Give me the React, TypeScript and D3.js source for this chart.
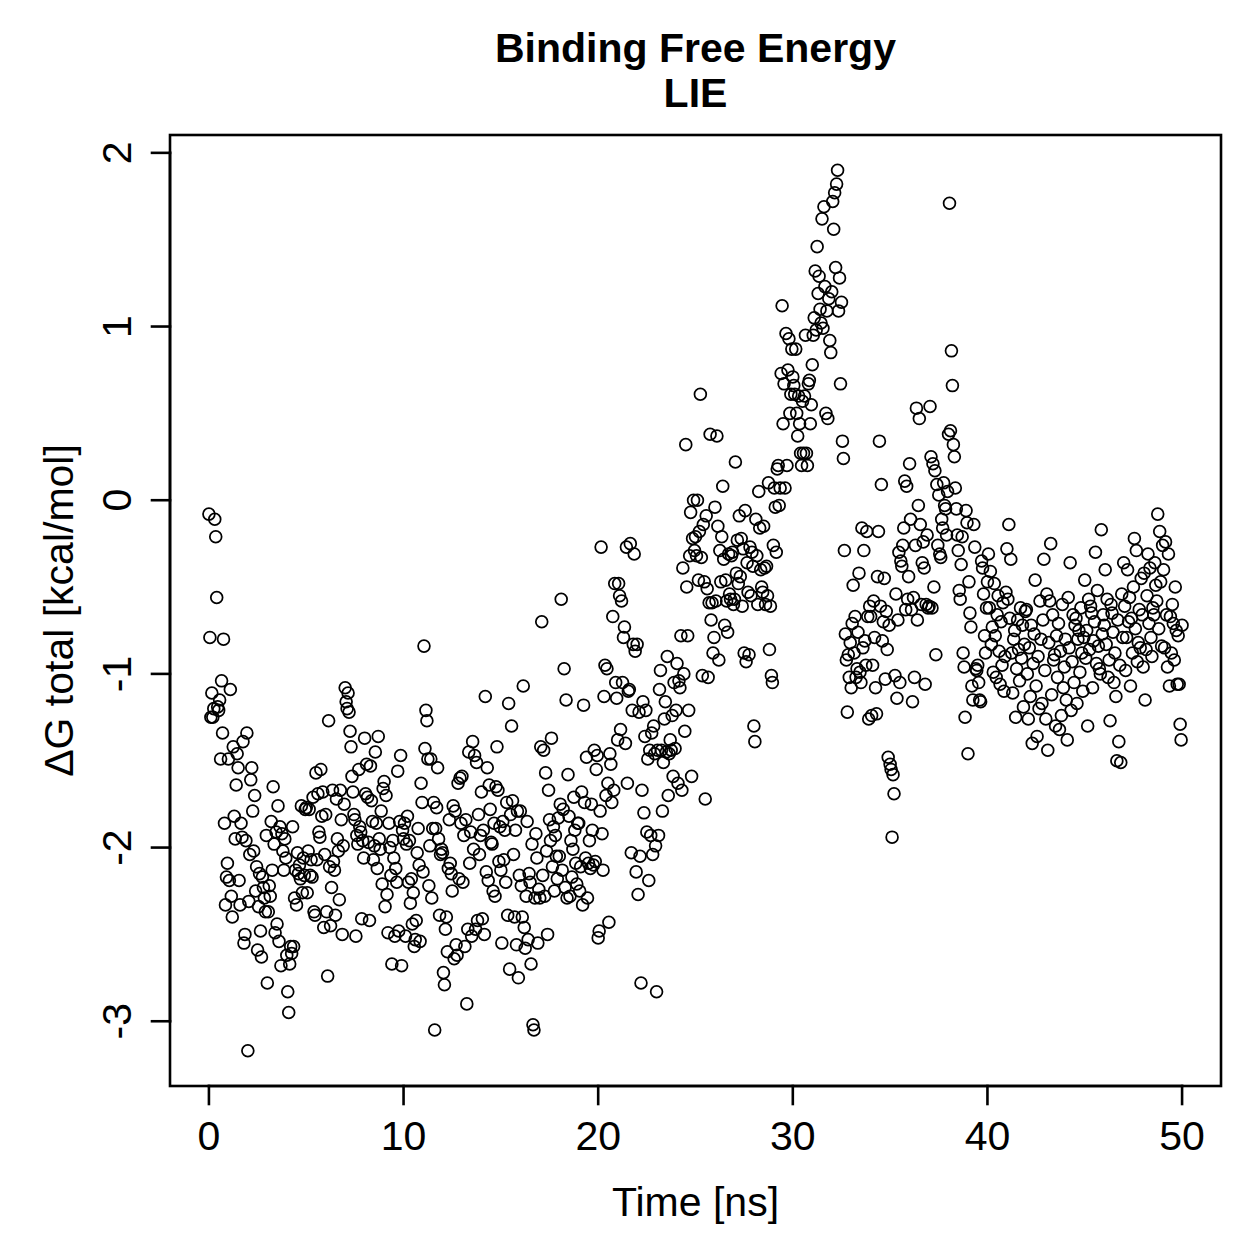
import React from "react";
import * as d3 from "d3";

// LIE binding free energy (kcal/mol), sampled every 0.05 ns, 0–50 ns.
const timeStepNs = 0.05;

const dG_00_10 = [
  -0.08, -0.79, -1.25, -1.11, -1.25, -1.20, -0.11, -0.21, -0.56, -1.19, -1.21, -1.15, -1.49, -1.04, -1.34, -0.80, -1.86, -2.33, -2.17, -2.09,
  -1.49, -2.19, -1.09, -2.28, -2.40, -1.42, -1.82, -1.95, -1.64, -1.46, -1.54, -2.19, -2.33, -1.86, -1.94, -1.39, -2.55, -2.50, -1.96, -1.34,
  -3.17, -2.31, -2.04, -1.61, -1.54, -1.79, -2.02, -1.70, -2.25, -2.11, -2.59, -2.34, -2.15, -2.48, -2.63, -2.17, -2.23, -2.29, -2.37, -1.93,
  -2.78, -2.37, -2.22, -2.28, -1.85, -2.13, -1.65, -1.98, -2.49, -1.91, -2.44, -1.76, -2.54, -1.88, -2.68, -1.92, -2.02, -2.13, -1.95, -2.06,
  -2.62, -2.83, -2.95, -2.67, -2.57, -2.61, -1.88, -2.57, -2.29, -2.13, -2.33, -2.03, -2.15, -2.10, -2.18, -1.76, -2.26, -2.06, -2.16, -1.78,
  -1.77, -2.26, -2.02, -1.78, -2.16, -2.07, -2.17, -1.71, -2.37, -2.39, -1.57, -2.07, -1.69, -1.91, -1.94, -1.55, -1.82, -1.68, -2.46, -2.04,
  -1.81, -2.37, -2.74, -1.27, -2.11, -2.45, -2.23, -1.67, -2.08, -2.13, -2.39, -1.72, -1.95, -2.02, -2.30, -1.67, -1.84, -2.50, -1.99, -1.75,
  -1.08, -1.16, -1.20, -1.11, -1.22, -1.33, -1.42, -1.59, -1.68, -1.81, -1.84, -2.51, -1.93, -1.98, -1.55, -1.88, -1.91, -2.41, -1.96, -2.06,
  -1.37, -1.69, -1.52, -1.71, -1.97, -2.42, -1.53, -1.73, -1.85, -2.07, -1.99, -1.45, -1.86, -2.12, -1.36, -1.95, -2.01, -1.79, -2.21, -1.66,
  -1.62, -2.34, -1.70, -2.27, -2.49, -1.86, -2.00, -2.16, -2.67, -1.96, -2.06, -2.51, -2.12, -2.20, -1.56, -2.48, -1.85, -1.47, -2.68, -1.90,
];

const dG_10_20 = [
  -1.95, -1.86, -2.51, -1.98, -1.82, -2.20, -1.96, -2.32, -2.18, -2.44, -2.26, -2.57, -2.53, -2.42, -2.03, -1.89, -2.10, -2.54, -1.63, -1.74,
  -2.14, -0.84, -1.43, -1.21, -1.27, -1.49, -2.22, -1.99, -1.49, -2.29, -1.89, -1.74, -3.05, -1.89, -1.77, -1.54, -1.95, -2.39, -2.04, -2.01,
  -2.03, -2.72, -2.79, -2.47, -2.40, -2.60, -2.12, -1.84, -2.09, -2.15, -2.25, -1.76, -2.64, -1.79, -2.56, -2.62, -1.63, -2.18, -1.60, -1.86,
  -1.59, -2.20, -1.93, -2.57, -1.84, -2.90, -2.47, -1.45, -2.09, -1.91, -2.51, -1.39, -2.01, -1.47, -2.47, -1.51, -2.42, -1.81, -2.04, -1.93,
  -1.68, -2.41, -1.90, -2.50, -1.13, -2.14, -1.54, -2.19, -1.64, -1.78, -1.97, -1.98, -2.25, -1.86, -2.28, -1.65, -1.42, -1.67, -2.08, -1.88,
  -2.13, -2.55, -1.85, -2.07, -1.90, -2.20, -1.74, -2.39, -1.17, -2.70, -1.81, -1.30, -1.73, -2.04, -2.40, -1.90, -2.56, -1.79, -2.75, -2.16,
  -1.79, -2.22, -2.40, -1.07, -2.46, -2.58, -2.28, -1.85, -2.53, -2.15, -2.20, -2.67, -1.98, -3.02, -3.05, -2.29, -1.92, -2.06, -2.55, -2.24,
  -2.29, -1.42, -0.70, -2.16, -1.44, -2.28, -1.57, -2.02, -2.50, -1.67, -1.84, -1.96, -1.37, -2.11, -1.88, -2.25, -1.93, -2.05, -2.18, -1.83,
  -2.05, -1.75, -0.57, -2.13, -1.78, -0.97, -2.23, -1.15, -2.29, -1.58, -1.82, -2.28, -1.96, -2.17, -2.01, -1.71, -1.90, -2.09, -2.21, -1.86,
  -1.86, -2.25, -2.11, -1.68, -2.33, -1.18, -1.74, -2.06, -1.48, -2.29, -2.09, -1.96, -2.12, -1.75, -1.90, -2.10, -1.44, -2.08, -1.55, -1.47,
];

const dG_20_30 = [
  -2.52, -2.48, -1.79, -0.27, -1.92, -2.13, -1.13, -0.95, -1.70, -0.97, -1.63, -2.43, -1.46, -1.52, -1.74, -0.67, -1.67, -0.48, -1.05, -1.14,
  -1.38, -0.48, -0.55, -1.32, -0.58, -1.05, -0.79, -0.73, -1.40, -0.27, -1.63, -1.10, -1.09, -0.25, -2.03, -1.21, -0.83, -0.31, -0.87, -2.14,
  -0.83, -2.27, -1.22, -2.05, -2.78, -1.67, -1.16, -1.80, -1.36, -1.21, -1.91, -1.49, -2.19, -1.44, -1.93, -1.34, -2.04, -1.30, -1.46, -1.99,
  -2.83, -1.44, -1.93, -1.09, -0.98, -1.44, -1.79, -1.51, -1.26, -1.16, -1.45, -0.90, -1.70, -1.46, -1.38, -1.44, -1.24, -1.59, -1.05, -1.43,
  -1.21, -0.94, -1.63, -1.04, -1.08, -0.78, -1.67, -0.39, -1.00, -1.33, 0.32, -0.50, -0.78, -1.21, -0.32, -0.07, -1.59, -0.22, 0.00, -0.29,
  -0.21, -0.32, 0.00, -0.46, -0.18, 0.61, -0.33, -1.01, -0.14, -0.47, -1.72, -0.09, -0.51, -1.02, -0.59, 0.38, -0.69, -0.59, -0.88, -0.79,
  -0.04, -0.58, 0.37, -0.15, -0.92, -0.29, -0.47, -0.21, 0.08, -0.34, -0.72, -0.46, -0.58, -0.76, -0.31, -0.54, -0.57, -0.32, -0.30, -0.60,
  -0.57, 0.22, -0.42, -0.23, -0.48, -0.09, -0.44, -0.22, -0.61, -0.28, -0.88, -0.06, -0.93, -0.36, -0.53, -0.89, -0.27, -0.55, -0.30, -0.38,
  -1.30, -1.39, -0.11, -0.32, -0.60, 0.05, -0.16, -0.40, -0.50, -0.53, -0.15, -0.39, -0.60, -0.38, -0.55, 0.10, -0.86, -0.61, -1.01, -1.05,
  -0.26, 0.07, -0.04, -0.30, 0.18, 0.20, -0.03, 0.07, 0.73, 1.12, 0.44, 0.67, 0.07, 0.96, 0.20, 0.75, 0.93, 0.50, 0.61, 0.87,
];

const dG_30_40 = [
  0.71, 0.66, 0.61, 0.87, 0.50, 0.37, 0.60, 0.44, 0.27, 0.20, 0.57, 0.27, 0.60, 0.95, 0.27, 0.20, 0.67, 0.69, 0.44, 0.55,
  0.78, 0.95, 1.05, 1.32, 0.98, 1.46, 1.19, 1.29, 1.10, 1.02, 1.62, 0.99, 1.69, 1.23, 0.50, 1.09, 0.47, 1.16, 0.92, 0.85,
  1.20, 1.72, 1.56, 1.77, 1.34, 1.82, 1.90, 1.09, 1.28, 0.67, 1.14, 0.34, 0.24, -0.29, -0.77, -0.92, -1.22, -0.89, -1.02, -0.82,
  -1.08, -0.71, -0.49, -0.88, -0.67, -1.02, -0.97, -0.76, -0.42, -0.99, -1.05, -0.16, -0.85, -0.29, -0.81, -0.95, -0.18, -0.67, -1.26, -0.61,
  -0.67, -1.24, -0.95, -0.58, -0.79, -1.08, -1.23, -0.44, -0.18, 0.34, -0.61, 0.09, -0.81, -0.70, -0.45, -1.03, -0.64, -0.86, -1.48, -0.72,
  -1.52, -1.55, -1.94, -1.58, -1.69, -1.01, -0.54, -1.14, -0.69, -0.30, -1.05, -0.35, -0.38, -0.26, -0.16, 0.11, -0.63, 0.08, -0.57, -0.44,
  0.21, -0.11, -0.63, -1.16, -0.56, -1.02, -0.26, 0.53, -0.69, -0.03, 0.47, -0.14, -0.60, -0.36, -0.24, -0.39, -1.06, -0.60, -0.20, -0.62,
  -0.61, 0.54, 0.25, -0.62, 0.21, -0.50, 0.17, -0.89, 0.09, -0.26, 0.03, -0.31, -0.33, -0.11, -0.16, 0.10, -0.03, -0.05, -0.20, 0.05,
  0.38, 1.71, 0.40, 0.86, 0.66, 0.32, 0.25, 0.07, -0.05, -0.20, -0.29, -0.52, -0.57, -0.37, -0.21, -0.88, -0.96, -1.25, -0.06, -0.13,
  -1.46, -0.47, -0.65, -0.73, -1.07, -1.15, -0.14, -0.27, -0.97, -0.98, -0.95, -1.05, -1.15, -1.16, -0.35, -0.39, -0.54, -0.78, -0.88, -0.62,
];

const dG_40_50 = [
  -0.47, -0.31, -0.62, -0.41, -0.83, -0.73, -0.99, -0.48, -0.78, -1.02, -0.66, -0.55, -0.87, -1.06, -0.70, -0.95, -0.59, -1.10, -0.90, -0.53,
  -0.28, -0.57, -0.14, -0.68, -0.34, -0.88, -1.11, -0.80, -0.75, -1.25, -0.97, -0.69, -0.86, -1.04, -0.62, -0.91, -0.72, -1.19, -0.83, -0.64,
  -0.63, -1.00, -1.26, -0.85, -1.13, -0.72, -1.40, -0.94, -0.77, -0.46, -1.07, -1.36, -0.90, -1.20, -0.58, -0.80, -1.17, -0.69, -0.34, -0.98,
  -1.26, -0.54, -1.44, -0.82, -0.58, -0.25, -1.12, -0.66, -0.92, -0.89, -1.30, -0.78, -1.02, -0.71, -1.32, -0.87, -1.24, -0.60, -1.08, -0.96,
  -0.80, -1.15, -1.38, -0.56, -0.85, -0.36, -1.21, -0.93, -0.66, -1.05, -0.72, -0.68, -1.17, -0.80, -0.75, -0.99, -0.62, -0.88, -1.10, -0.79,
  -0.46, -0.91, -0.75, -1.30, -0.57, -0.86, -0.61, -0.65, -1.08, -0.81, -0.70, -0.30, -0.94, -0.52, -0.84, -0.97, -1.00, -0.17, -0.77, -0.66,
  -0.72, -0.40, -0.83, -0.57, -1.02, -0.92, -1.27, -0.60, -0.65, -0.76, -1.05, -0.88, -1.13, -1.50, -0.69, -1.39, -0.95, -1.51, -0.54, -0.79,
  -0.36, -0.61, -0.98, -0.79, -0.40, -0.70, -0.56, -1.07, -0.68, -0.88, -0.50, -0.22, -0.74, -0.29, -0.93, -0.82, -0.63, -0.85, -0.45, -0.66,
  -0.96, -0.42, -1.15, -0.86, -0.55, -0.31, -0.71, -0.39, -0.79, -0.90, -0.62, -0.66, -0.36, -0.49, -0.58, -0.08, -0.74, -0.18, -0.47, -0.84,
  -0.26, -0.40, -0.85, -0.24, -0.66, -0.96, -0.31, -1.07, -0.67, -0.88, -0.60, -0.71, -0.92, -0.50, -0.75, -1.06, -0.78, -1.06, -1.29, -1.38,
  -0.72,
];

const xTicks = [0, 10, 20, 30, 40, 50];
const yTicks = [-3, -2, -1, 0, 1, 2];
const titleLines = ["Binding Free Energy", "LIE"];
const xLabel = "Time [ns]";
const yLabel = "ΔG total [kcal/mol]";

const W = 1259;
const H = 1259;
const plot = { left: 170, right: 1221, top: 135, bottom: 1086 };
const font = "'Liberation Sans', Arial, Helvetica, sans-serif";
const fs = 41;

// R-style axis range: data extent widened by 4% on each side
function padded(ext: [number, number]): [number, number] {
  const d = (ext[1] - ext[0]) * 0.04;
  return [ext[0] - d, ext[1] + d];
}

export default function App() {
  const values = [...dG_00_10, ...dG_10_20, ...dG_20_30, ...dG_30_40, ...dG_40_50];
  const points = values.map((v, i) => ({ t: i * timeStepNs, v }));

  const x = d3
    .scaleLinear()
    .domain(padded(d3.extent(points, (d) => d.t) as [number, number]))
    .range([plot.left, plot.right]);
  const y = d3
    .scaleLinear()
    .domain(padded(d3.extent(points, (d) => d.v) as [number, number]))
    .range([plot.bottom, plot.top]);

  const tickLen = 18;
  const lw = 2.6;
  const cx = (plot.left + plot.right) / 2;
  const cy = (plot.top + plot.bottom) / 2;

  return (
    <svg
      width={W}
      height={H}
      viewBox={`0 0 ${W} ${H}`}
      style={{ position: "absolute", left: 0, top: 0, display: "block", background: "#fff" }}
      fontFamily={font}
    >
      <rect x={0} y={0} width={W} height={H} fill="#fff" />

      {/* title */}
      {titleLines.map((s, i) => (
        <text key={s} x={cx} y={62 + i * 45} textAnchor="middle" fontSize={fs} fontWeight="bold" fill="#000">
          {s}
        </text>
      ))}

      {/* points */}
      <g fill="none" stroke="#000" strokeWidth={1.75}>
        {points.map((p, i) => (
          <circle key={i} cx={x(p.t)} cy={y(p.v)} r={5.9} />
        ))}
      </g>

      {/* frame */}
      <rect
        x={plot.left}
        y={plot.top}
        width={plot.right - plot.left}
        height={plot.bottom - plot.top}
        fill="none"
        stroke="#000"
        strokeWidth={lw}
      />

      {/* x axis */}
      <g stroke="#000" strokeWidth={lw} strokeLinecap="square">
        <line x1={x(xTicks[0])} x2={x(xTicks[xTicks.length - 1])} y1={plot.bottom} y2={plot.bottom} />
        {xTicks.map((t) => (
          <line key={t} x1={x(t)} x2={x(t)} y1={plot.bottom} y2={plot.bottom + tickLen} />
        ))}
      </g>
      {xTicks.map((t) => (
        <text key={t} x={x(t)} y={1150} textAnchor="middle" fontSize={fs} fill="#000">
          {String(t)}
        </text>
      ))}

      {/* y axis */}
      <g stroke="#000" strokeWidth={lw} strokeLinecap="square">
        <line x1={plot.left} x2={plot.left} y1={y(yTicks[0])} y2={y(yTicks[yTicks.length - 1])} />
        {yTicks.map((t) => (
          <line key={t} x1={plot.left - tickLen} x2={plot.left} y1={y(t)} y2={y(t)} />
        ))}
      </g>
      {yTicks.map((t) => (
        <text
          key={t}
          transform={`translate(131,${y(t)}) rotate(-90)`}
          textAnchor="middle"
          fontSize={fs}
          fill="#000"
        >
          {String(t)}
        </text>
      ))}

      {/* axis titles */}
      <text x={cx} y={1216} textAnchor="middle" fontSize={fs} fill="#000">
        {xLabel}
      </text>
      <text transform={`translate(73,${cy}) rotate(-90)`} textAnchor="middle" fontSize={fs} fill="#000">
        {yLabel}
      </text>
    </svg>
  );
}
